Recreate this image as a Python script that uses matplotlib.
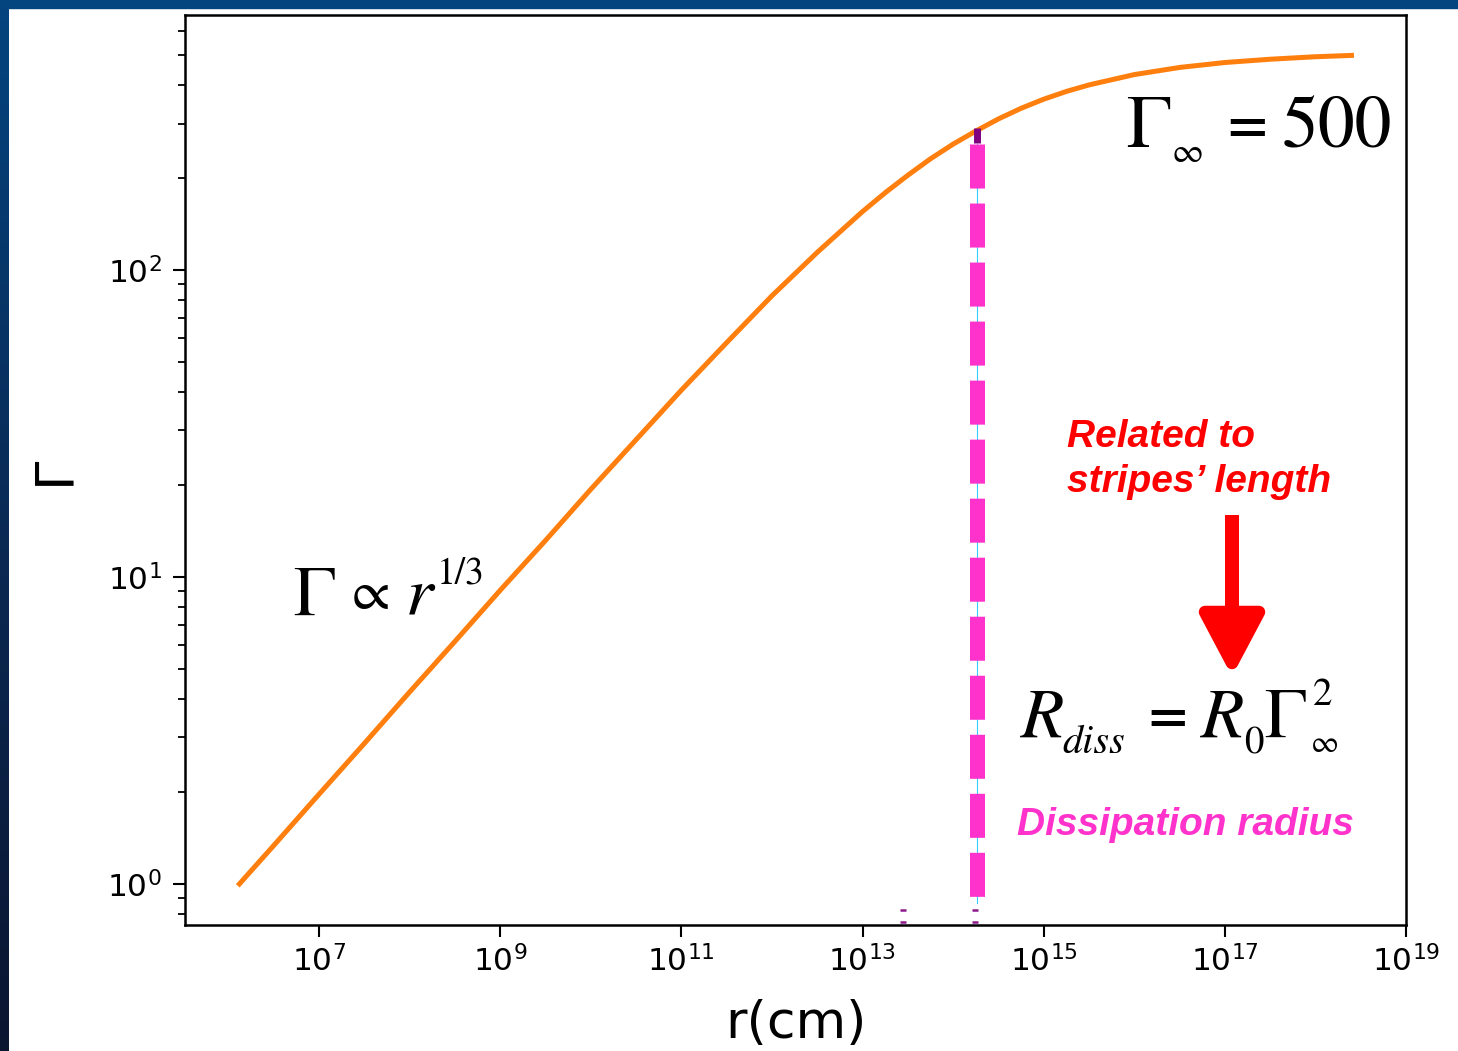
import matplotlib
matplotlib.use("Agg")
import matplotlib.pyplot as plt
import numpy as np
from matplotlib.patches import Rectangle, Polygon
from matplotlib.colors import LinearSegmentedColormap
from matplotlib.ticker import NullLocator, LogLocator

plt.rcParams.update({'mathtext.fontset': 'stix', 'lines.scale_dashes': False})

# Lorentz factor vs radius
r_cm = [1.32e6, 3.2e6, 1e7, 3.2e7, 1e8, 3.2e8, 1e9, 3.2e9, 1e10, 3.2e10, 1e11,
        3.2e11, 1e12, 3.2e12, 1e13, 1.8e13, 3.2e13, 5.6e13, 1e14, 1.8e14,
        3.2e14, 5.6e14, 1e15, 1.8e15, 3.2e15, 1e16, 3.2e16, 1e17, 3.2e17,
        1e18, 2.5e18]
gamma = [1.0, 1.34, 1.96, 2.88, 4.22, 6.19, 9.05, 13.2, 19.3, 28.1, 40.6,
         58.2, 82.4, 114.5, 155, 179, 204, 230, 257, 284,
         311, 336, 360, 382, 401, 433, 457, 474, 486,
         495, 500]

# dissipation radius marker
r_diss = 1.83e14
diss_span = [257, 0.87]       # magenta dashes (top -> bottom)
cap_span = [259, 290]         # dark purple piece above it
stray_r = [2.8e13, 1.74e14]   # little purple bits near the axis
stray_g = [0.823, 0.752]

xticks = [1e7, 1e9, 1e11, 1e13, 1e15, 1e17, 1e19]

W, H = 1458, 1051
fig = plt.figure(figsize=(W / 100, H / 100), dpi=100)


def px(x, y):
    return x / W, 1 - y / H


def mt(x, y, s, size, italic=False, **kw):
    # place a piece of an equation by its baseline, in picture pixels
    kw.setdefault('va', 'baseline')
    fig.text(*px(x, y), s, fontsize=size, ha='left', family='STIXGeneral',
             style='italic' if italic else 'normal', **kw)


# slide border
fig.patches.append(Rectangle((0, 1 - 8 / H), 1, 8 / H, transform=fig.transFigure,
                             color='#04447f', zorder=0))
bax = fig.add_axes([0, 0, 9 / W, 1])
cmap = LinearSegmentedColormap.from_list('b', ['#04447f', '#0a2a55', '#0a1530'])
bax.imshow(np.linspace(0, 1, 256)[:, None], aspect='auto', cmap=cmap)
bax.axis('off')

ax = fig.add_axes([185 / W, 1 - 925 / H, 1221 / W, 910 / H])
ax.plot(r_cm, gamma, color='#ff7f0e', lw=3.6, zorder=3)

ax.plot([r_diss, r_diss], diss_span, color='#33ccff', lw=0.8, zorder=2)
ax.plot([r_diss, r_diss], diss_span, color='#ff33cc', lw=10.8, solid_capstyle='butt',
        dash_capstyle='butt', dashes=(31.7, 10.8), zorder=4)
ax.plot([r_diss, r_diss], cap_span, color='#800080', lw=5, solid_capstyle='butt', zorder=5)
for rr in stray_r:
    ax.plot([rr, rr], stray_g, ls='none', marker='_', ms=4.5, mew=1.8, color='#8a1a8a')

ax.set_xscale('log')
ax.set_yscale('log')
ax.set_xlim(10 ** 5.52, 1e19)
ax.set_ylim(0.735, 677)
ax.set_xticks(xticks)
ax.xaxis.set_minor_locator(NullLocator())
ax.yaxis.set_minor_locator(LogLocator(subs=np.arange(2, 10)))

for s in ax.spines.values():
    s.set_linewidth(1.8)
ax.tick_params(which='major', length=8.6, width=1.5, labelsize=22.5)
ax.tick_params(which='minor', length=5, width=1.3)
ax.tick_params(axis='y', which='major', pad=8)
ax.tick_params(axis='x', which='major', pad=6)

ax.set_xlabel('r(cm)', fontsize=37.5)
ax.set_ylabel('Γ', fontsize=38)
ax.xaxis.set_label_coords(0.5, -0.081)
ax.yaxis.set_label_coords(-0.086, 0.5)

# Gamma_inf = 500
mt(1126, 147, 'Γ', 54)
mt(1172, 162, '∞', 25)
mt(1226, 142, '=', 40, weight='bold')
mt(1282, 147, '500', 53)

# Gamma ~ r^(1/3)
mt(293, 615, 'Γ', 51)
mt(352, 596, '∝', 40, va='center')
mt(406, 615, 'r', 51, italic=True)
mt(437, 583, '1/3', 27)

# R_diss = R_0 Gamma_inf^2
mt(1021, 737, 'R', 51, italic=True)
mt(1062, 753, 'diss', 29, italic=True)
mt(1147, 732, '=', 39, weight='bold')
mt(1201, 737, 'R', 51, italic=True)
mt(1244, 753, '0', 28)
mt(1264, 737, 'Γ', 51)
mt(1313, 705, '2', 28)
mt(1311, 752, '∞', 22)

tkw = dict(family='Liberation Sans', weight='bold', style='italic', fontsize=28,
           ha='left', va='baseline')
fig.text(*px(1067, 447), 'Related to', color='#ff0000', **tkw)
fig.text(*px(1067, 492), 'stripes\u2019 length', color='#ff0000', **tkw)
fig.text(*px(1017, 835), 'Dissipation radius', color='#ff33cc', **tkw)

# red arrow
fig.patches.append(Rectangle(px(1225, 612), 14 / W, 97 / H, transform=fig.transFigure,
                             color='#ff0000', lw=0))
head = [px(1205, 612), px(1259, 612), px(1232, 663)]
fig.patches.append(Polygon(head, closed=True, transform=fig.transFigure, facecolor='#ff0000',
                           edgecolor='#ff0000', lw=9, joinstyle='round'))

fig.savefig('out.png', dpi=100)
